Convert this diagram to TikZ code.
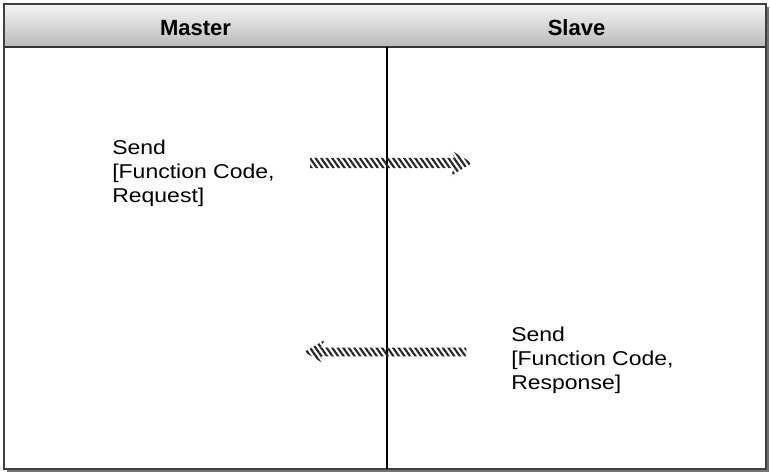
\documentclass[tikz,border=0pt]{standalone}
\usepackage{fontspec}
\setmainfont{Liberation Sans}
\newfontfamily\labelfont[FakeStretch=1.15]{Liberation Sans}
\usetikzlibrary{shapes.arrows,patterns.meta}

\begin{document}
\begin{tikzpicture}[x=0.75pt,y=-0.75pt]
\tikzstyle{label}=[align=left, anchor=north west, inner sep=0pt, font=\labelfont\fontsize{15}{18}\selectfont]
\tikzstyle{head}=[font=\bfseries\fontsize{16.5}{18}\selectfont]
\tikzstyle{hatch}=[single arrow, draw=none, inner sep=0pt, inner ysep=3pt,
    single arrow head extend=6pt, single arrow tip angle=62, single arrow head indent=3pt,
    minimum height=121.5pt,
    pattern={Lines[angle=-55,distance=3.4pt,line width=1.6pt]}, pattern color=black!85]

\useasboundingbox (0,0) rectangle (770,474);

% frame and header band
\fill[black!55] (7,7) rectangle (769,472);
\fill[white] (4,4) rectangle (766,469);
\shade[top color=black!4, bottom color=black!27] (4,4) rectangle (766,47);
\draw[black!80, line width=0.9pt] (4,47) -- (766,47);
\draw[black!75, line width=1.1pt] (4,4) rectangle (766,469);

\node[head] (master) at (195.5,28) {Master};
\node[head] (slave) at (576.5,28) {Slave};

% divider
\coordinate (top) at (387,47);
\coordinate (bottom) at (387,469);
\draw[black, line width=1pt] (top) -- (bottom);

% messages
\node[label] (req) at (112,140) {Send\\\relax[Function Code,\\Request]};
\node[hatch] (reqArrow) at (387,163) {};

\node[label] (resp) at (511,327) {Send\\\relax[Function Code,\\Response]};
\node[hatch, shape border rotate=180] (respArrow) at (389,352) {};
\end{tikzpicture}
\end{document}
